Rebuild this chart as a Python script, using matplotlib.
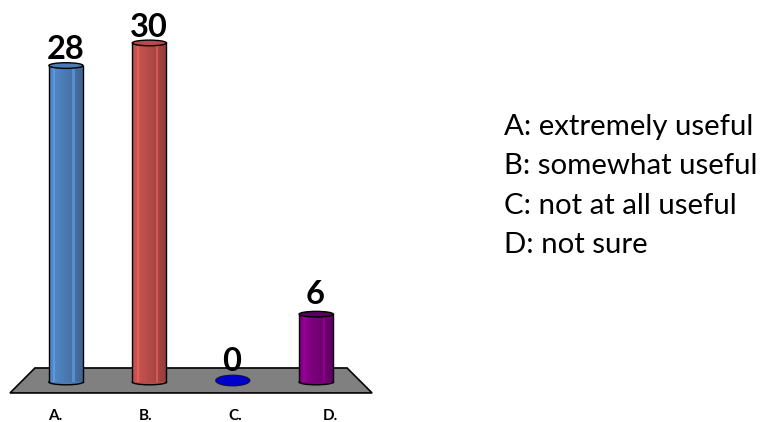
import numpy as np
import matplotlib
matplotlib.use("Agg")
import matplotlib.pyplot as plt
from matplotlib.patches import Ellipse, Polygon
from matplotlib.colors import to_rgb

plt.rcParams['font.family'] = ['Lato', 'DejaVu Sans']

categories = ['A.', 'B.', 'C.', 'D.']
values = [28, 30, 0, 6]
colors = ['#4F81BD', '#C0504D', '#0000CC', '#800080']
legend_lines = ['A: extremely useful', 'B: somewhat useful', 'C: not at all useful', 'D: not sure']

fig = plt.figure(figsize=(7.62, 4.22), dpi=100)
ax = fig.add_axes([0, 0, 1, 1])
# axes fills the figure, limits chosen so bars land where they do in the original
ax.set_xlim(-0.791, 8.345)
ax.set_ylim(-3.54, 33.8)
ax.axis('off')

# grey floor
floor = Polygon([(-0.671, -0.97), (-0.372, 1.24), (3.37, 1.24), (3.67, -0.97)],
                closed=True, facecolor='#808080', edgecolor='black', lw=1.2, zorder=1)
ax.add_patch(floor)

bar_w = 0.41
cap_h = 0.5
# left to right brightness across the cylinder, two light seams like the original
shades = [1.0, 1.03, 1.18, 1.03, 1.0, 0.98, 0.96, 0.94, 0.92, 0.9, 0.88, 1.1, 0.85, 0.82, 0.8, 0.78]
cap_shades = [0.95, 0.95, 1.0, 0.7]
label_gaps = [0.55, 0.55, 0.97, 0.9]


def shade(col, k):
    return tuple(min(1, c * k) for c in to_rgb(col))


for i, (v, col) in enumerate(zip(values, colors)):
    if v == 0:
        ax.add_patch(Ellipse((i, 0.13), bar_w, 0.95, facecolor=col,
                             edgecolor='#101040', lw=0.8, zorder=3))
    else:
        # body of the cylinder as thin vertical strips
        n = len(shades)
        w = bar_w / n
        lefts = i - bar_w / 2 + w * np.arange(n)
        ax.add_patch(Ellipse((i, 0), bar_w, cap_h, facecolor=shade(col, 0.95),
                             edgecolor='black', lw=1, zorder=2))
        ax.bar(lefts, v, width=w, align='edge', bottom=0,
               color=[shade(col, k) for k in shades], linewidth=0, zorder=3)
        ax.plot([i - bar_w / 2, i - bar_w / 2], [0, v], color='black', lw=1, zorder=4)
        ax.plot([i + bar_w / 2, i + bar_w / 2], [0, v], color='black', lw=1, zorder=4)
        # top cap sits over the strips so the rim shows all the way round
        ax.add_patch(Ellipse((i, v), bar_w, cap_h, facecolor=shade(col, cap_shades[i]),
                             edgecolor='black', lw=1, zorder=5))
    ax.text(i - 0.01, v + label_gaps[i], str(v), ha='center', va='baseline',
            fontsize=23.5, fontweight='bold', color='black', zorder=6)

# category labels sit off the bar centres in the original
label_pos = [-0.13, 0.96, 2.03, 3.17]
for x, lab in zip(label_pos, categories):
    ax.text(x, -3.05, lab, ha='center', va='center', fontsize=11, fontweight='bold')

# legend text block
for k, line in enumerate(legend_lines):
    ax.text(5.25, 22.6 - k * 3.5, line, ha='left', va='center', fontsize=21.2, color='black')

fig.savefig('out.png', dpi=100)
